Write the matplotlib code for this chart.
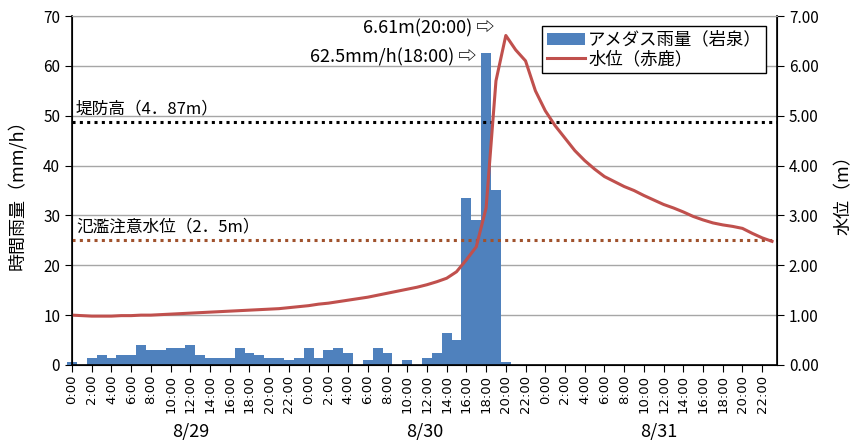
import matplotlib
matplotlib.use("Agg")
import matplotlib.pyplot as plt
import matplotlib.transforms as mtransforms

plt.rcParams['font.family'] = ['Noto Sans CJK JP', 'DejaVu Sans']

# hourly data, 8/29 0:00 .. 8/31 23:00
hours = list(range(72))
rain = [0.5, 0, 1.5, 2.0, 1.5, 2.0, 2.0, 4.0, 3.0, 3.0, 3.5, 3.5,
        4.0, 2.0, 1.5, 1.5, 1.5, 3.5, 2.5, 2.0, 1.5, 1.5, 1.0, 1.5,
        3.5, 1.5, 3.0, 3.5, 2.5, 0, 1.0, 3.5, 2.5, 0, 1.0, 0,
        1.5, 2.5, 6.5, 5.0, 33.5, 29.0, 62.5, 35.0, 0.5, 0, 0, 0,
        0, 0, 0, 0, 0, 0, 0, 0, 0, 0, 0, 0,
        0, 0, 0, 0, 0, 0, 0, 0, 0, 0, 0, 0]
level = [1.00, 0.99, 0.98, 0.98, 0.98, 0.99, 0.99, 1.00, 1.00, 1.01, 1.02, 1.03,
         1.04, 1.05, 1.06, 1.07, 1.08, 1.09, 1.10, 1.11, 1.12, 1.13, 1.15, 1.17,
         1.19, 1.22, 1.24, 1.27, 1.30, 1.33, 1.36, 1.40, 1.44, 1.48, 1.52, 1.56,
         1.61, 1.67, 1.74, 1.87, 2.11, 2.37, 3.15, 5.70, 6.61, 6.32, 6.10, 5.50,
         5.10, 4.80, 4.55, 4.30, 4.10, 3.93, 3.78, 3.68, 3.58, 3.50, 3.40, 3.31,
         3.22, 3.15, 3.07, 2.98, 2.91, 2.85, 2.81, 2.78, 2.74, 2.64, 2.55, 2.48]
tick_hours = list(range(0, 72, 2))
tick_labels = [f"{h % 24}:00" for h in tick_hours]
days = ["8/29", "8/30", "8/31"]
levee = 4.87
warn = 2.5

blue = "#4F81BD"
red = "#C0504D"

fig = plt.figure(figsize=(8.54, 4.40), dpi=100)
ax = fig.add_axes([0.0843, 0.1705, 0.8255, 0.7931])
ax2 = ax.twinx()

ax.set_axisbelow(True)
ax.yaxis.grid(True, color="#a6a6a6", linewidth=1)
bars = ax.bar(hours, rain, width=1.0, color=blue, linewidth=0,
              label="アメダス雨量（岩泉）", clip_on=False)
ax.set_ylim(0, 70)
ax.set_yticks(range(0, 71, 10))
ax.set_xlim(0, 71.5)
ax.set_xticks(tick_hours)
ax.set_xticklabels(tick_labels, rotation=90, fontsize=9.5, family=['DejaVu Sans'])
ax.tick_params(axis='y', labelsize=11, direction='out', length=5)
ax.tick_params(axis='x', direction='out', length=5, pad=2)
ax.set_ylabel("時間雨量（mm/h）", fontsize=13, labelpad=12)

ax2.axhline(levee, color="black", linestyle=(0, (1, 1.4)), linewidth=2.2)
ax2.axhline(warn, color="#A0522D", linestyle=(0, (1, 1.4)), linewidth=2.2)
line, = ax2.plot(hours, level, color=red, linewidth=2.2, label="水位（赤鹿）")
ax2.set_ylim(0, 7)
ax2.set_yticks(range(0, 8))
ax2.set_yticklabels([f"{v:.2f}" for v in range(0, 8)])
ax2.tick_params(axis='y', labelsize=11, direction='out', length=5)
ax2.set_ylabel("水位（m）", fontsize=13, labelpad=12)

for a in (ax, ax2):
    a.spines['top'].set_color("#a6a6a6")
ax2.spines['right'].set_linewidth(1.2)
ax2.spines['left'].set_linewidth(1.2)
ax2.spines['bottom'].set_linewidth(1.2)

ax2.text(0.4, levee + 0.1, "堤防高（4．87m）", fontsize=12, ha='left', va='bottom')
ax2.text(0.4, warn + 0.1, "氾濫注意水位（2．5m）", fontsize=12, ha='left', va='bottom')

ax2.annotate("6.61m(20:00) ⇨", xy=(44, max(level)), xytext=(-8, 5),
             textcoords='offset points', ha='right', va='center', fontsize=13)
ax.annotate("62.5mm/h(18:00) ⇨", xy=(42, max(rain)), xytext=(-7, -3),
            textcoords='offset points', ha='right', va='center', fontsize=13)

trans = mtransforms.blended_transform_factory(ax.transData, ax.transAxes)
for i, d in enumerate(days):
    ax.text(12 + 23.75 * i, -0.19, d, transform=trans, ha='center', va='center', fontsize=13)

leg = ax2.legend([bars, line], ["アメダス雨量（岩泉）", "水位（赤鹿）"],
                 loc='upper right', bbox_to_anchor=(0.985, 0.97), fontsize=12.5,
                 fancybox=False, edgecolor="black", framealpha=1,
                 handlelength=2.2, handletextpad=0.2, borderpad=0.25,
                 labelspacing=0.1, borderaxespad=0)
leg.get_frame().set_linewidth(1.0)

fig.savefig("out.png", dpi=100)
